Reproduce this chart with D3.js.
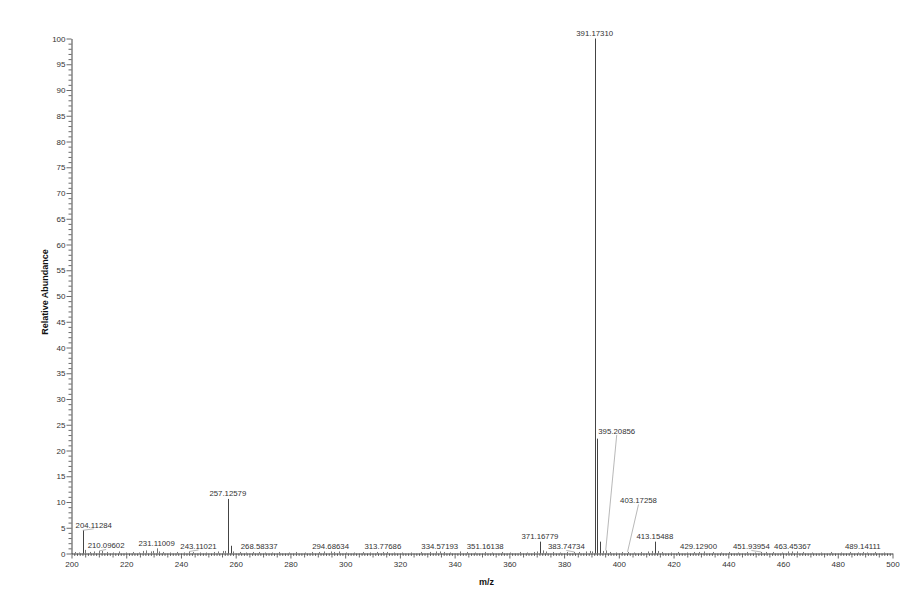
<!DOCTYPE html>
<html>
<head>
<meta charset="utf-8">
<script src="https://cdn.jsdelivr.net/npm/d3@7"></script>
<style>
  body { margin: 0; background: #fff; }
  svg text { font-family: "Liberation Sans", Arial, sans-serif; }
</style>
</head>
<body>
<div class="chart_container"></div>
<script>
// labelled peaks
const peakMz = [204.11284, 210.09602, 231.11009, 243.11021, 257.12579, 268.58337, 294.68634,
  313.77686, 334.57193, 351.16138, 371.16779, 383.74734, 391.17310, 395.20856, 403.17258,
  413.15488, 429.12900, 451.93954, 463.45367, 489.14111];
const peakInt = [4.5, 0.5, 1.0, 0.4, 10.6, 0.3, 0.4, 0.3, 0.4, 0.3, 2.3, 0.3, 100, 0.6, 0.3,
  2.3, 0.3, 0.3, 0.4, 0.3];

// unlabelled peaks (isotopes + baseline noise)
const noiseMz = [201.1, 202.6, 205.1, 206.9, 208.2, 211.2, 212.8, 215.0, 217.4, 219.9, 222.3,
  224.6, 226.1, 227.1, 228.9, 229.8, 232.1, 233.5, 236.0, 238.7, 241.2, 244.5, 246.8, 249.3,
  251.9, 253.6, 255.2, 256.1, 258.13, 259.1, 261.5, 263.9, 266.2, 270.7, 273.2, 276.0, 279.4,
  282.1, 285.3, 287.9, 290.6, 292.3, 296.1, 297.8, 300.4, 303.1, 306.5, 309.2, 311.8, 315.4,
  317.9, 320.6, 324.2, 327.7, 331.0, 333.2, 336.1, 338.4, 341.9, 344.6, 347.5, 353.8, 357.2,
  360.4, 363.9, 366.5, 368.9, 370.2, 372.2, 373.4, 375.8, 378.6, 381.2, 385.5, 387.9, 389.4,
  390.2, 392.17, 393.18, 394.2, 396.6, 398.8, 401.3, 405.4, 408.2, 410.6, 412.0, 414.2, 415.8,
  418.9, 421.7, 424.8, 427.3, 431.0, 434.3, 437.2, 440.1, 443.5, 446.9, 449.8, 453.6, 456.4,
  459.7, 461.8, 465.0, 467.3, 470.6, 474.0, 477.7, 481.2, 484.5, 487.3, 490.8, 493.5, 496.9];
const noiseInt = [0.3, 0.2, 0.7, 0.3, 0.4, 0.5, 0.3, 0.2, 0.4, 0.2, 0.3, 0.2, 0.5, 0.6, 0.4,
  0.5, 0.4, 0.3, 0.2, 0.3, 0.2, 0.3, 0.2, 0.2, 0.3, 0.4, 0.5, 0.5, 1.5, 0.4, 0.3, 0.2, 0.3,
  0.2, 0.2, 0.3, 0.2, 0.3, 0.2, 0.3, 0.3, 0.4, 0.3, 0.4, 0.2, 0.2, 0.3, 0.2, 0.3, 0.3, 0.2,
  0.2, 0.2, 0.3, 0.3, 0.4, 0.3, 0.2, 0.4, 0.3, 0.2, 0.2, 0.3, 0.2, 0.3, 0.2, 0.3, 0.4, 0.6,
  0.4, 0.3, 0.2, 0.3, 0.3, 0.4, 0.5, 0.4, 22.3, 2.3, 0.5, 0.3, 0.2, 0.3, 0.2, 0.3, 0.4, 0.5,
  0.5, 0.3, 0.2, 0.3, 0.2, 0.3, 0.4, 0.3, 0.2, 0.3, 0.2, 0.3, 0.2, 0.3, 0.3, 0.2, 0.4, 0.4,
  0.3, 0.2, 0.2, 0.3, 0.2, 0.3, 0.2, 0.2, 0.3, 0.2];

const yTicks = d3.range(0, 101, 5);
const xTicks = d3.range(200, 501, 20);

// label offsets (px) for labels that are pushed away from their peak
const labelShift = {
  "204.11284": [11, 0], "210.09602": [7, 0], "243.11021": [9, 0], "383.74734": [-8, 0],
  "451.93954": [-9.6, 0], "395.20856": [11, -114], "403.17258": [11, -46]
};

const W = 919, H = 589;

function drawSpectrum() {
  const container = document.querySelector('div.chart_container');
  container.innerHTML = `<svg width=${W} height=${H}></svg>`;
  const svg = d3.select(container).select('svg');

  const x = d3.scaleLinear().domain([200, 500]).range([71.5, 892.5]);
  const y = d3.scaleLinear().domain([0, 100]).range([553.5, 38.5]);

  // y axis minor + major
  svg.append('g').attr('transform', 'translate(71.5,0)')
    .call(d3.axisLeft(y).tickValues(d3.range(0, 101, 1).filter(v => v % 5)).tickSize(3).tickFormat(''))
    .call(g => g.select('.domain').remove());
  const ya = svg.append('g').attr('transform', 'translate(71.5,0)')
    .call(d3.axisLeft(y).tickValues(yTicks).tickSize(5).tickPadding(1).tickSizeOuter(0));
  ya.selectAll('text').attr('font-size', 8).attr('fill', '#333').attr('font-family', null);

  // x axis minor + medium + major
  svg.append('g').attr('transform', 'translate(0,553.5)')
    .call(d3.axisBottom(x).tickValues(d3.range(200, 501, 1).filter(v => v % 5)).tickSize(2.5).tickFormat(''))
    .call(g => g.select('.domain').remove());
  svg.append('g').attr('transform', 'translate(0,553.5)')
    .call(d3.axisBottom(x).tickValues(d3.range(205, 501, 5).filter(v => v % 20)).tickSize(4).tickFormat(''))
    .call(g => g.select('.domain').remove());
  const xa = svg.append('g').attr('transform', 'translate(0,553.5)')
    .call(d3.axisBottom(x).tickValues(xTicks).tickSize(5).tickPadding(3).tickSizeOuter(0));
  xa.selectAll('text').attr('font-size', 8).attr('fill', '#333').attr('font-family', null);

  svg.selectAll('.tick line').attr('stroke', '#444').attr('stroke-width', 0.8);
  svg.selectAll('.domain').attr('stroke', '#444');

  // peaks
  const peaks = peakMz.map((m, i) => ({ mz: m, int: peakInt[i], label: true }))
    .concat(noiseMz.map((m, i) => ({ mz: m, int: noiseInt[i], label: false })));

  svg.append('g').selectAll('line')
    .data(peaks).enter().append('line')
    .attr('x1', d => Math.round(x(d.mz)) + 0.5)
    .attr('x2', d => Math.round(x(d.mz)) + 0.5)
    .attr('y1', y(0))
    .attr('y2', d => y(d.int))
    .attr('stroke', d => d.int > 1 ? '#444' : '#777')
    .attr('stroke-width', 1);

  // labels
  const labels = peaks.filter(d => d.label).map(d => {
    const key = d.mz.toFixed(5);
    const s = labelShift[key] || [0, 0];
    const px = x(d.mz), py = y(d.int);
    return { key, px, py, lx: px + s[0], ly: py - 2.5 + s[1], shifted: !!labelShift[key] };
  });

  svg.append('g').selectAll('line')
    .data(labels.filter(d => d.shifted)).enter().append('line')
    .attr('x1', d => d.px).attr('y1', d => d.py)
    .attr('x2', d => d.lx).attr('y2', d => d.ly + 1)
    .attr('stroke', '#999').attr('stroke-width', 0.7);

  svg.append('g').selectAll('text')
    .data(labels).enter().append('text')
    .attr('x', d => d.lx).attr('y', d => d.ly)
    .attr('text-anchor', 'middle')
    .attr('font-size', 7.8)
    .attr('fill', '#333')
    .text(d => d.key);

  // axis titles
  svg.append('text')
    .attr('transform', 'translate(48,292) rotate(-90)')
    .attr('text-anchor', 'middle')
    .attr('font-size', 9).attr('font-weight', 'bold').attr('fill', '#111')
    .text('Relative Abundance');
  svg.append('text')
    .attr('x', 486.5).attr('y', 585)
    .attr('text-anchor', 'middle')
    .attr('font-size', 9).attr('font-weight', 'bold').attr('fill', '#111')
    .text('m/z');
}

drawSpectrum();
</script>
</body>
</html>
